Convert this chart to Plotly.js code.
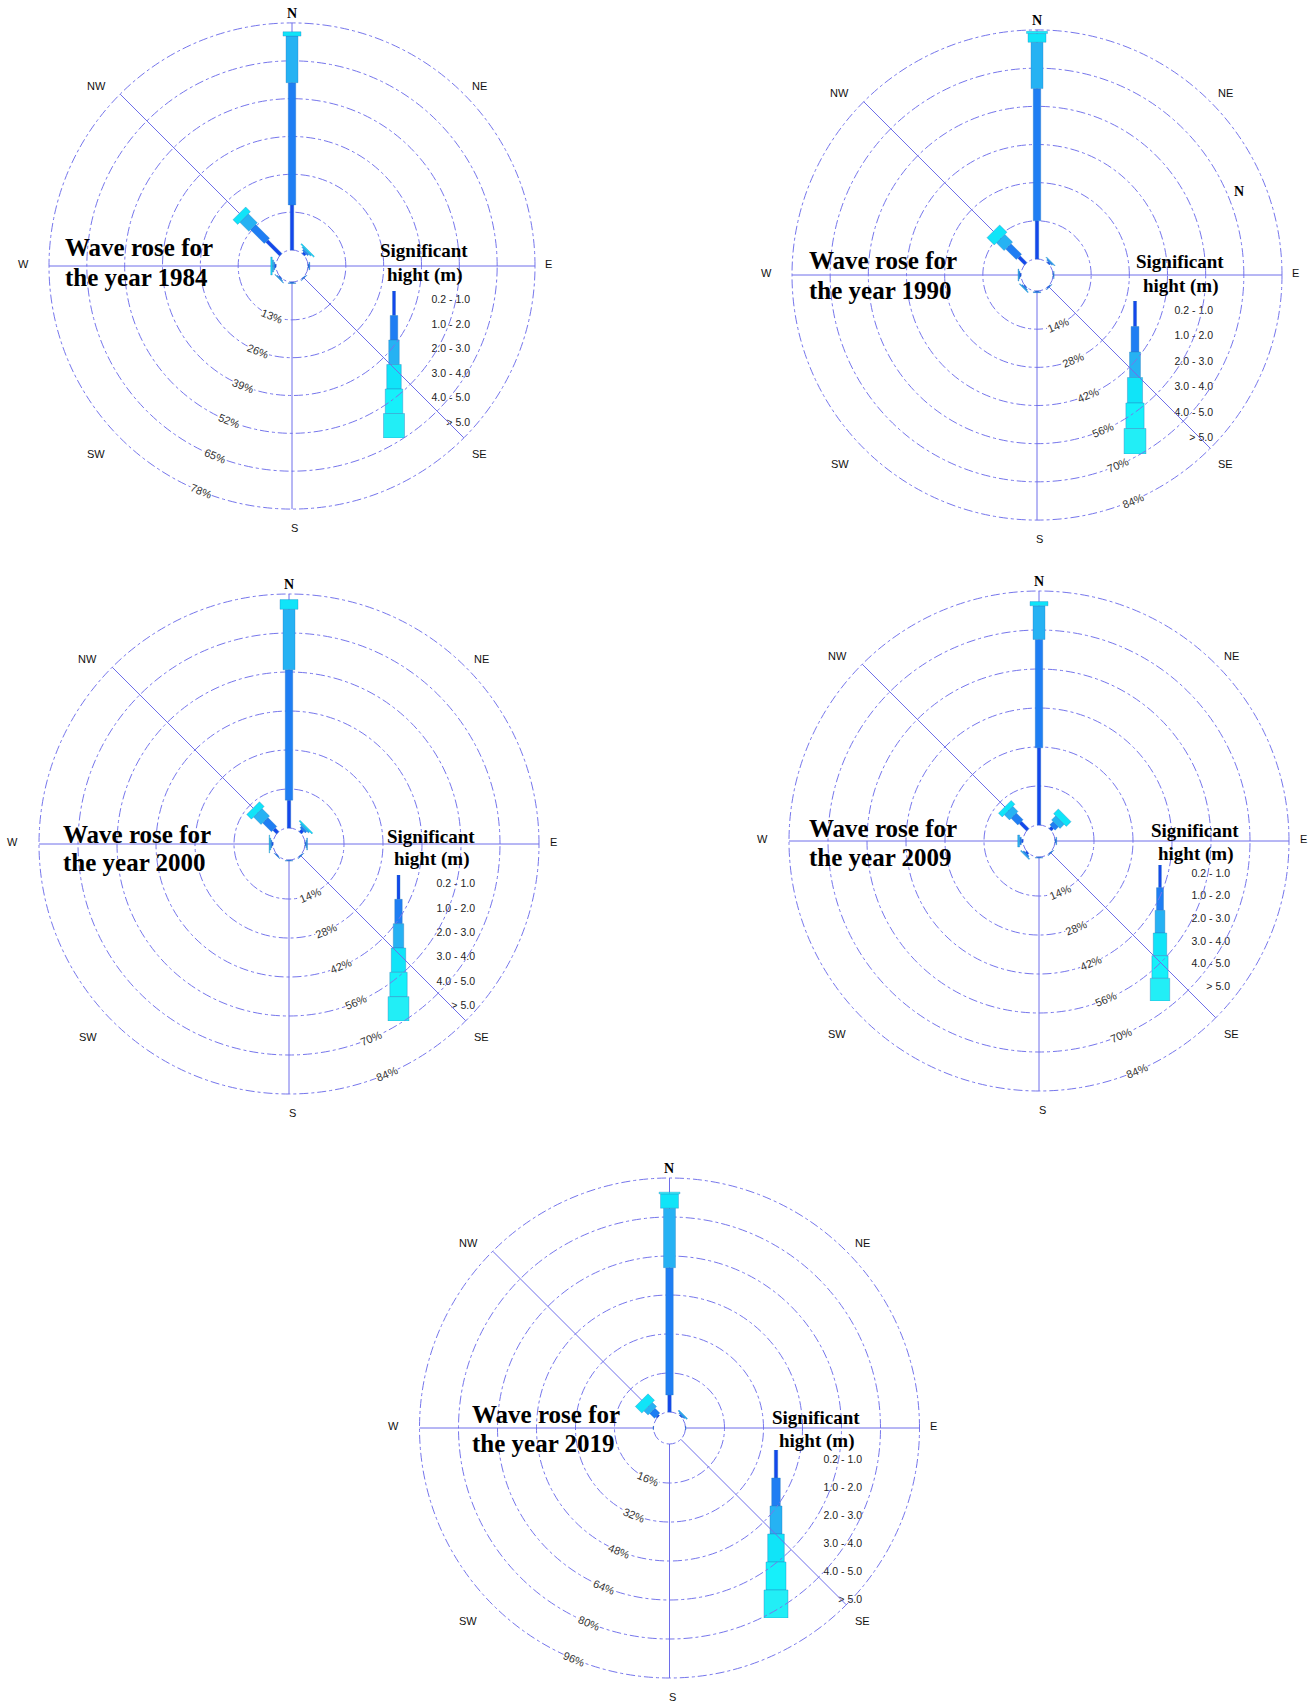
<!DOCTYPE html>
<html>
<head>
<meta charset="utf-8">
<script src="https://cdn.plot.ly/plotly-3.0.1.min.js"></script>
<style>
  html, body { margin: 0; padding: 0; background: #ffffff; }
  #chart { width: 1315px; height: 1703px; }
</style>
</head>
<body>
<div id="chart"></div>
<script>
// ---------------------------------------------------------------
// Wave roses: frequency (%) of significant wave height by direction
// ---------------------------------------------------------------
const years = ['1984', '1990', '2000', '2009', '2019'];
const ringSteps = [13, 14, 14, 14, 16];          // % between rings
const heightClasses = ['0.2 - 1.0', '1.0 - 2.0', '2.0 - 3.0', '3.0 - 4.0', '4.0 - 5.0', '> 5.0'];
const dirNames = ['N', 'NE', 'E', 'SE', 'S', 'SW', 'W', 'NW'];
const dirAngles = [0, 45, 90, 135, 180, 225, 270, 315];
const spokeAngles = [0, 90, 135, 180, 270, 315];

// rows: N, NE, E, SE, S, SW, W, NW ; columns: height classes
const freq1984 = [
  [15.5, 42.0, 16.0, 1.5, 0, 0],
  [0.8, 0.6, 0.5, 0.4, 0, 0],
  [0.3, 0.3, 0, 0, 0, 0],
  [0.2, 0.2, 0, 0, 0, 0],
  [0.3, 0.2, 0, 0, 0, 0],
  [0.3, 0.3, 0.2, 0, 0, 0],
  [0.4, 0.4, 0.5, 0.5, 0, 0],
  [6.7, 6.7, 4.4, 2.3, 0, 0]
];
const freq1990 = [
  [14.0, 48.5, 17.0, 3.2, 0.8, 0],
  [0.5, 0.5, 0.3, 0, 0, 0],
  [0.2, 0.2, 0, 0, 0, 0],
  [0.3, 0.2, 0, 0, 0, 0],
  [0.3, 0.3, 0, 0, 0, 0],
  [0.4, 0.4, 0.3, 0, 0, 0],
  [0.4, 0.4, 0.3, 0, 0, 0],
  [3.5, 5.5, 4.0, 3.8, 0, 0]
];
const freq2000 = [
  [10.0, 46.8, 21.7, 3.5, 0, 0],
  [1.2, 0.8, 0.6, 0.5, 0, 0],
  [0.3, 0.3, 0.3, 0, 0, 0],
  [0.2, 0.2, 0, 0, 0, 0],
  [0.2, 0.2, 0, 0, 0, 0],
  [0.2, 0.2, 0, 0, 0, 0],
  [0.4, 0.4, 0.4, 0.2, 0, 0],
  [1.8, 4.5, 3.8, 2.4, 0, 0]
];
const freq2009 = [
  [27.7, 38.9, 12.1, 1.5, 0, 0],
  [1.1, 1.7, 2.1, 2.4, 0, 0],
  [0.3, 0.3, 0, 0, 0, 0],
  [0.2, 0.2, 0, 0, 0, 0],
  [0.2, 0.2, 0, 0, 0, 0],
  [0.6, 0.5, 0.4, 0, 0, 0],
  [0.6, 0.6, 0.7, 0, 0, 0],
  [3.7, 3.4, 2.6, 1.9, 0, 0]
];
const freq2019 = [
  [7.0, 52.2, 24.4, 5.9, 0.7, 0],
  [0.4, 0.5, 0.5, 0, 0, 0],
  [0.2, 0, 0, 0, 0, 0],
  [0, 0, 0, 0, 0, 0],
  [0, 0, 0, 0, 0, 0],
  [0, 0, 0, 0, 0, 0],
  [0.2, 0, 0, 0, 0, 0],
  [0.6, 2.8, 2.4, 3.8, 0, 0]
];
const freqByYear = [freq1984, freq1990, freq2000, freq2009, freq2019];

// ---------------------------------------------------------------
// Styling and placement
// ---------------------------------------------------------------
const W = 1315, H = 1703;
const HOLE_PX = 14;           // empty centre
const EDGE_PAD = 2;           // keeps the first and last ring inside the axis range
const classColors = ['#1447ec', '#1f7ef3', '#26b2f3', '#10e4f8', '#16f0fa', '#22eef6'];
const outlineColor = 'rgba(40,120,190,0.55)';
const barWidthsPx = [3.5, 7.5, 12, 18, 21, 24];
const ringColor = 'rgb(118,118,236)';
const spokeColor = 'rgb(110,110,234)';
const sans = 'Liberation Sans, Arial, sans-serif';
const serif = 'Liberation Serif, Times New Roman, serif';

const roseCenters = [[292, 266], [1037, 275], [289, 844], [1039, 841], [669.5, 1428]];
const roseRadii = [243, 245, 250, 250, 250];
const ringLabelBearing = [202, 157, 157, 157, 202.5];   // compass bearing of the % labels
// compass label centres, in units of the outer-ring radius (x right, y down)
const compassLabelX = [0, 0.770, 1.056, 0.770, 0.012, -0.806, -1.106, -0.806];
const compassLabelY = [-1.04, -0.741, -0.007, 0.773, 1.077, 0.773, -0.007, -0.741];

const legendCenterX = [394, 1135, 398.5, 1160, 776];
const legendTop = [291, 301, 875, 865, 1450];
const legendBottom = [438, 454, 1021, 1001, 1618];
const legendLabelRight = [468, 1211, 473, 1228, 860];
const legendBaseWidths = [3, 7.5, 10.5, 14.5, 17.5, 21];

const titleLeft = [63, 807, 61, 807, 470];
const titleY = [[247.6, 277], [260.6, 290], [834, 863], [828.5, 858], [1414, 1443]];
const keyTitleX = [424, 1180, 431, 1195, 816];
const keyTitleY = [[251, 275], [261.7, 285.6], [836, 859], [830.7, 853.5], [1417, 1441]];

const traces = [];
const layout = {
  width: W, height: H,
  margin: { l: 0, r: 0, t: 0, b: 0 },
  paper_bgcolor: '#ffffff',
  plot_bgcolor: 'rgba(0,0,0,0)',
  showlegend: false,
  barmode: 'overlay',
  annotations: []
};

years.forEach((year, i) => {
  const [cx, cy] = roseCenters[i];
  const R = roseRadii[i];                 // radius of the outer ring
  const Rd = R + EDGE_PAD;                // radius of the polar domain
  const step = ringSteps[i];
  const rMax = 6 * step;
  const k = (Rd - HOLE_PX - 2 * EDGE_PAD) / rMax;   // px per %
  const r0 = -EDGE_PAD / k, rTop = rMax + EDGE_PAD / k;
  const rho = v => HOLE_PX + (v - r0) * k;          // radial scale, % -> px
  const key = i === 0 ? 'polar' : 'polar' + (i + 1);
  const ringVals = [1, 2, 3, 4, 5, 6].map(n => n * step);

  layout[key] = {
    domain: { x: [(cx - Rd) / W, (cx + Rd) / W], y: [1 - (cy + Rd) / H, 1 - (cy - Rd) / H] },
    hole: HOLE_PX / Rd, bgcolor: 'rgba(0,0,0,0)',
    angularaxis: {
      rotation: 90, direction: 'clockwise', tickmode: 'array', tickvals: dirAngles,
      showticklabels: false, showgrid: false, showline: false, ticks: ''
    },
    radialaxis: {
      range: [r0, rTop], tickmode: 'array', tickvals: [0].concat(ringVals),
      showticklabels: false, showline: false, ticks: '',
      gridcolor: ringColor, griddash: 'dashdot', gridwidth: 1
    }
  };

  // direction spokes (NE and SW are left open)
  const sr = [], st = [];
  spokeAngles.forEach((a, n) => {
    if (n) { sr.push(null); st.push(null); }
    sr.push(0, rMax); st.push(a, a);
  });
  traces.push({
    type: 'scatterpolar', subplot: key, r: sr, theta: st, mode: 'lines',
    line: { color: spokeColor, width: 1 }, connectgaps: false, hoverinfo: 'skip'
  });

  // stacked segments, one trace per height class; each is a constant-width rectangle
  const freq = freqByYear[i];
  heightClasses.forEach((cls, c) => {
    const r = [], theta = [];
    const hw = barWidthsPx[c] / 2;
    freq.forEach((row, d) => {
      if (row[c] <= 0) return;
      const s0 = row.slice(0, c).reduce((a, b) => a + b, 0);
      const a0 = rho(s0), a1 = rho(s0 + row[c]);
      if (r.length) { r.push(null); theta.push(null); }
      [[a0, -hw], [a1, -hw], [a1, hw], [a0, hw], [a0, -hw]].forEach(([a, p]) => {
        r.push((Math.hypot(a, p) - HOLE_PX) / k + r0);
        theta.push(dirAngles[d] + Math.atan2(p, a) * 180 / Math.PI);
      });
    });
    if (!r.length) return;
    traces.push({
      type: 'scatterpolar', subplot: key, r: r, theta: theta,
      mode: 'lines', fill: 'toself', fillcolor: classColors[c],
      line: { color: outlineColor, width: 0.6 }, connectgaps: false,
      hoverinfo: 'skip', name: year + ' ' + cls
    });
  });

  // ring percentage labels, sitting on the rings along one bearing
  const b = ringLabelBearing[i] * Math.PI / 180;
  ringVals.forEach(v => {
    const p = rho(v);
    layout.annotations.push({
      xref: 'paper', yref: 'paper',
      x: (cx + p * Math.sin(b)) / W, y: 1 - (cy - p * Math.cos(b)) / H,
      xanchor: 'center', yanchor: 'middle', showarrow: false,
      text: v + '%', textangle: ringLabelBearing[i] - 180,
      bgcolor: '#ffffff', borderpad: 0,
      font: { family: sans, size: 11, color: '#333' }
    });
  });

  // compass labels outside the outer ring
  dirNames.forEach((d, n) => {
    layout.annotations.push({
      xref: 'paper', yref: 'paper',
      x: (cx + R * compassLabelX[n]) / W, y: 1 - (cy + R * compassLabelY[n]) / H,
      xanchor: 'center', yanchor: 'middle', showarrow: false,
      text: d === 'N' ? '<b>N</b>' : d,
      font: d === 'N' ? { family: serif, size: 14, color: '#000' } : { family: sans, size: 11, color: '#111' }
    });
  });

  // height-class key
  const xa = 'xaxis' + (i + 1), ya = 'yaxis' + (i + 1);
  const scale = (legendBottom[i] - legendTop[i]) / 147;
  layout[xa] = {
    domain: [(legendCenterX[i] - 20) / W, (legendCenterX[i] + 20) / W],
    range: [-20, 20], visible: false, fixedrange: true, anchor: 'y' + (i + 1)
  };
  layout[ya] = {
    domain: [1 - legendBottom[i] / H, 1 - legendTop[i] / H],
    range: [6, 0], anchor: 'free', position: (legendLabelRight[i] + 2) / W, side: 'left',
    tickmode: 'array', tickvals: heightClasses.map((_, c) => c + 0.35), ticktext: heightClasses,
    showgrid: false, zeroline: false, showline: false, ticks: '',
    tickfont: { family: sans, size: 10.5, color: '#222' }, fixedrange: true
  };
  heightClasses.forEach((cls, c) => {
    traces.push({
      type: 'bar', xaxis: 'x' + (i + 1), yaxis: 'y' + (i + 1),
      x: [0], y: [1], base: [c], width: [legendBaseWidths[c] * scale],
      marker: { color: classColors[c], line: { color: outlineColor, width: 0.7 } },
      hoverinfo: 'skip', name: cls
    });
  });

  // titles
  const ann = layout.annotations;
  ann.push({ xref: 'paper', yref: 'paper', x: titleLeft[i] / W, y: 1 - titleY[i][0] / H,
    xanchor: 'left', yanchor: 'middle', showarrow: false, text: '<b>Wave rose for</b>',
    font: { family: serif, size: 25, color: '#000' } });
  ann.push({ xref: 'paper', yref: 'paper', x: titleLeft[i] / W, y: 1 - titleY[i][1] / H,
    xanchor: 'left', yanchor: 'middle', showarrow: false, text: '<b>the year ' + year + '</b>',
    font: { family: serif, size: 25, color: '#000' } });
  ann.push({ xref: 'paper', yref: 'paper', x: keyTitleX[i] / W, y: 1 - keyTitleY[i][0] / H,
    xanchor: 'center', yanchor: 'middle', showarrow: false, text: '<b>Significant</b>',
    font: { family: serif, size: 19, color: '#000' } });
  ann.push({ xref: 'paper', yref: 'paper', x: keyTitleX[i] / W, y: 1 - keyTitleY[i][1] / H,
    xanchor: 'center', yanchor: 'middle', showarrow: false, text: '<b>hight (m)</b>',
    font: { family: serif, size: 19, color: '#000' } });
});

// stray north marker printed inside the 1990 rose
layout.annotations.push({ xref: 'paper', yref: 'paper', x: 1239 / W, y: 1 - 192 / H,
  xanchor: 'center', yanchor: 'middle', showarrow: false, text: '<b>N</b>',
  font: { family: serif, size: 14, color: '#000' } });

Plotly.newPlot('chart', traces, layout, { staticPlot: true, displayModeBar: false });
</script>
</body>
</html>
